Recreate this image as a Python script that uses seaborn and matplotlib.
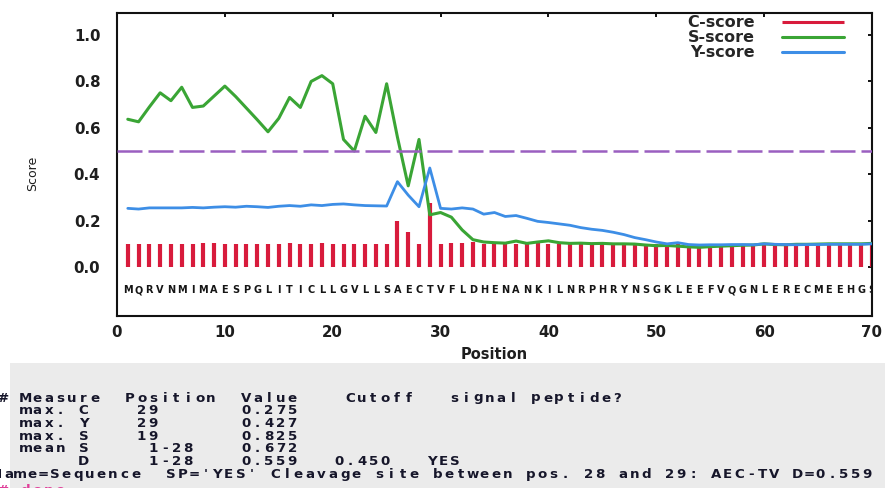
import matplotlib
matplotlib.use("Agg")
import matplotlib.pyplot as plt
import seaborn as sns
import pandas as pd
from matplotlib.patches import Rectangle

# ---------------- data ----------------
positions = list(range(1, 71))
sequence = list("MQRVNMIMAESPGLITICLLGVLLSAECTVFLDHENANKILNRPHRYNSGKLEEFVQGNLERECMEEHGS")

c_score = [0.100, 0.100, 0.100, 0.100, 0.100, 0.100, 0.100, 0.102, 0.102, 0.100,
           0.100, 0.100, 0.100, 0.098, 0.100, 0.102, 0.100, 0.100, 0.102, 0.100,
           0.100, 0.100, 0.100, 0.100, 0.100, 0.200, 0.150, 0.100, 0.275, 0.100,
           0.102, 0.105, 0.108, 0.100, 0.100, 0.102, 0.100, 0.100, 0.102, 0.100,
           0.100, 0.100, 0.100, 0.100, 0.100, 0.100, 0.100, 0.100, 0.100, 0.100,
           0.100, 0.100, 0.100, 0.100, 0.100, 0.100, 0.100, 0.100, 0.100, 0.100,
           0.100, 0.100, 0.100, 0.100, 0.100, 0.100, 0.100, 0.100, 0.100, 0.100]

s_score = [0.637, 0.626, 0.690, 0.751, 0.717, 0.775, 0.688, 0.694, 0.737, 0.780,
           0.735, 0.685, 0.635, 0.583, 0.641, 0.731, 0.688, 0.800, 0.825, 0.790,
           0.550, 0.500, 0.650, 0.580, 0.790, 0.560, 0.350, 0.550, 0.225, 0.235,
           0.215, 0.160, 0.118, 0.108, 0.105, 0.103, 0.112, 0.102, 0.108, 0.113,
           0.105, 0.102, 0.103, 0.101, 0.102, 0.100, 0.100, 0.099, 0.095, 0.092,
           0.093, 0.090, 0.087, 0.085, 0.088, 0.090, 0.092, 0.094, 0.095, 0.100,
           0.097, 0.096, 0.098, 0.098, 0.099, 0.100, 0.100, 0.100, 0.100, 0.102]

y_score = [0.253, 0.250, 0.255, 0.255, 0.255, 0.255, 0.257, 0.255, 0.258, 0.260,
           0.258, 0.262, 0.260, 0.257, 0.262, 0.265, 0.262, 0.268, 0.265, 0.270,
           0.272, 0.268, 0.265, 0.264, 0.263, 0.368, 0.310, 0.260, 0.427, 0.253,
           0.250, 0.255, 0.250, 0.228, 0.235, 0.218, 0.222, 0.210, 0.197, 0.192,
           0.186, 0.180, 0.170, 0.163, 0.158, 0.150, 0.140, 0.127, 0.118, 0.108,
           0.100, 0.105, 0.097, 0.095, 0.096, 0.096, 0.097, 0.097, 0.096, 0.100,
           0.098, 0.097, 0.096, 0.097, 0.097, 0.098, 0.098, 0.098, 0.098, 0.100]

cutoff = 0.5
series_labels = ["C-score", "S-score", "Y-score"]
x_ticks = [0, 10, 20, 30, 40, 50, 60, 70]
y_ticks = [0.0, 0.2, 0.4, 0.6, 0.8, 1.0]
x_label = "Position"
y_label = "Score"

table_lines = [
    "# Measure  Position  Value    Cutoff   signal peptide?",
    "  max. C    29       0.275",
    "  max. Y    29       0.427",
    "  max. S    19       0.825",
    "  mean S     1-28    0.672",
    "       D     1-28    0.559   0.450   YES",
]
name_line = "Name=Sequence  SP='YES' Cleavage site between pos. 28 and 29: AEC-TV D=0.559"
done_line = "# done"

# ---------------- style ----------------
sns.set_style("white")
plt.rcParams["font.family"] = ["DejaVu Sans"]

W, H = 885, 488
fig = plt.figure(figsize=(W / 100, H / 100), dpi=100)

def fx(px):
    return px / W

def fy(py):
    return 1 - py / H

# grey output panel
fig.patches.append(Rectangle((fx(10), 0), 1 - fx(10), fy(363), transform=fig.transFigure,
                             facecolor="#ebebeb", edgecolor="none", zorder=0))

ax = fig.add_axes([fx(117), fy(316), fx(872) - fx(117), fy(13) - fy(316)])
ax.set_facecolor("white")

df = pd.DataFrame({"Position": positions, "C": c_score, "S": s_score, "Y": y_score,
                   "aa": sequence})

red = "#d81b3c"
green = "#3aa535"
blue = "#3d8ee6"
purple = "#9a5fc0"

ax.vlines(df["Position"], 0, df["C"], colors=red, linewidth=3.0, zorder=2,
          label=series_labels[0])
sns.lineplot(data=df, x="Position", y="S", ax=ax, color=green, linewidth=2.2,
             label=series_labels[1], zorder=3)
sns.lineplot(data=df, x="Position", y="Y", ax=ax, color=blue, linewidth=2.0,
             label=series_labels[2], zorder=4)
hl = ax.axhline(cutoff, color=purple, linewidth=1.8, zorder=5)
hl.set_dashes((10, 2.4))

for p, a in zip(df["Position"], df["aa"]):
    ax.text(p, -0.1, a, ha="center", va="center", fontsize=7, fontweight="bold",
            color="#151515", clip_on=True)

ax.set_xlim(0, 70)
ax.set_ylim(-0.211, 1.095)
ax.set_xticks(x_ticks)
ax.set_yticks(y_ticks)
ax.set_xticklabels([str(t) for t in x_ticks])
ax.set_yticklabels([f"{t:.1f}" for t in y_ticks])
ax.tick_params(axis="both", direction="in", length=3, width=1.4, color="#111111",
               top=True, right=True, labelsize=10.8, labelcolor="#1e1e1e")
ax.tick_params(axis="y", pad=12)
ax.tick_params(axis="x", pad=6.5)
for lab in ax.get_xticklabels() + ax.get_yticklabels():
    lab.set_fontweight("bold")
for s in ax.spines.values():
    s.set_visible(True)
    s.set_color("#111111")
    s.set_linewidth(1.5)

ax.set_xlabel(x_label, fontsize=10.5, fontweight="bold", color="#1e1e1e")
ax.xaxis.set_label_coords(0.5, -0.102)
ax.set_ylabel(y_label, fontsize=9, color="#1e1e1e", fontweight="medium")
ax.yaxis.set_label_coords(-0.103, 0.472)

handles, labels = ax.get_legend_handles_labels()
leg = ax.legend(handles, labels, loc="upper right", bbox_to_anchor=(0.963, 0.992),
                frameon=False, markerfirst=False, prop={"weight": "bold", "size": 11.5},
                handlelength=3.9, handletextpad=1.7, labelspacing=0.0,
                borderpad=0, borderaxespad=0)
for line in leg.get_lines():
    line.set_linewidth(2.2)

# ---------------- text output (monospace grid) ----------------
pitch = 11.6
x0 = -3.5
row0 = 398.0
rowh = 12.7
mono = {"family": "DejaVu Sans", "weight": "bold", "size": 9.6}
txtcol = "#16162a"

def put_line(s, xstart, ypx, color):
    for i, ch in enumerate(s):
        if ch != " ":
            fig.text(fx(xstart + i * pitch + pitch / 2), fy(ypx), ch, ha="center",
                     va="center", color=color, fontdict=mono)

for r, line in enumerate(table_lines):
    put_line(line, x0, row0 + r * rowh, txtcol)
put_line(name_line, -9.0, row0 + 6 * rowh, txtcol)
put_line(done_line, x0, row0 + 7 * rowh + 4, "#e0409a")

fig.savefig("out.png", dpi=100)
